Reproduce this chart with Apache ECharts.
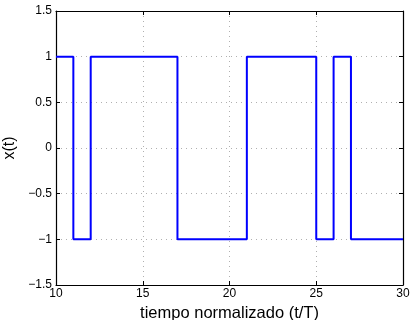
<!DOCTYPE html>
<html>
<head>
<meta charset="utf-8">
<script src="https://cdn.jsdelivr.net/npm/echarts@6/dist/echarts.min.js"></script>
<style>
  html, body { margin: 0; padding: 0; background: #fff; }
  #chart { width: 412px; height: 320px; }
</style>
</head>
<body>
<div id="chart"></div>
<script>
// signal transitions (t/T) and the level that holds from each one
const tTimes = [10, 11, 12, 17, 21, 25, 26, 27, 30];
const xLevels = [1, -1, 1, -1, 1, -1, 1, -1, -1];
const xTicks = [10, 15, 20, 25, 30];
const yTicks = [-1.5, -1, -0.5, 0, 0.5, 1, 1.5];

const chart = echarts.init(document.getElementById('chart'));
const font = 'Liberation Sans, Arial, sans-serif';
const fmt = (v) => String(v).replace('-', '\u2212');

const dotted = { show: true, lineStyle: { color: '#b0b0b0', type: [1, 4], width: 1 } };
const frame = { show: true, onZero: false, lineStyle: { color: '#000', width: 1.2 } };
const ticks = { show: true, inside: true, length: 4, lineStyle: { color: '#000' } };

chart.setOption({
  animation: false,
  textStyle: { fontFamily: font },
  grid: { left: 56, right: 9, top: 11, bottom: 35, containLabel: false, outerBoundsMode: 'none' },
  xAxis: [
    {
      type: 'value', min: xTicks[0], max: xTicks[xTicks.length - 1], interval: 5,
      name: 'tiempo normalizado (t/T)', nameLocation: 'middle', nameGap: 14,
      nameTextStyle: { color: '#000', fontSize: 16.5, fontFamily: font },
      axisLine: frame, axisTick: ticks,
      axisLabel: { color: '#000', fontSize: 12, margin: 3, fontFamily: font },
      splitLine: dotted
    },
    {
      type: 'value', position: 'top', min: 10, max: 30, interval: 5,
      axisLine: frame, axisTick: ticks,
      axisLabel: { show: false }, splitLine: { show: false }
    }
  ],
  yAxis: [
    {
      type: 'value', min: yTicks[0], max: yTicks[yTicks.length - 1], interval: 0.5,
      name: 'x(t)', nameLocation: 'middle', nameGap: 28, nameRotate: 90,
      nameTextStyle: { color: '#000', fontSize: 16, fontFamily: font },
      axisLine: frame, axisTick: ticks,
      axisLabel: { color: '#000', fontSize: 12, margin: 4, fontFamily: font, formatter: fmt },
      splitLine: dotted
    },
    {
      type: 'value', position: 'right', min: -1.5, max: 1.5, interval: 0.5,
      axisLine: frame, axisTick: ticks,
      axisLabel: { show: false }, splitLine: { show: false }
    }
  ],
  series: [{
    type: 'line',
    step: 'end',
    showSymbol: false,
    data: tTimes.map((t, i) => [t, xLevels[i]]),
    lineStyle: { color: '#0000ff', width: 2 },
    itemStyle: { color: '#0000ff' },
    z: 3
  }]
});
</script>
</body>
</html>
